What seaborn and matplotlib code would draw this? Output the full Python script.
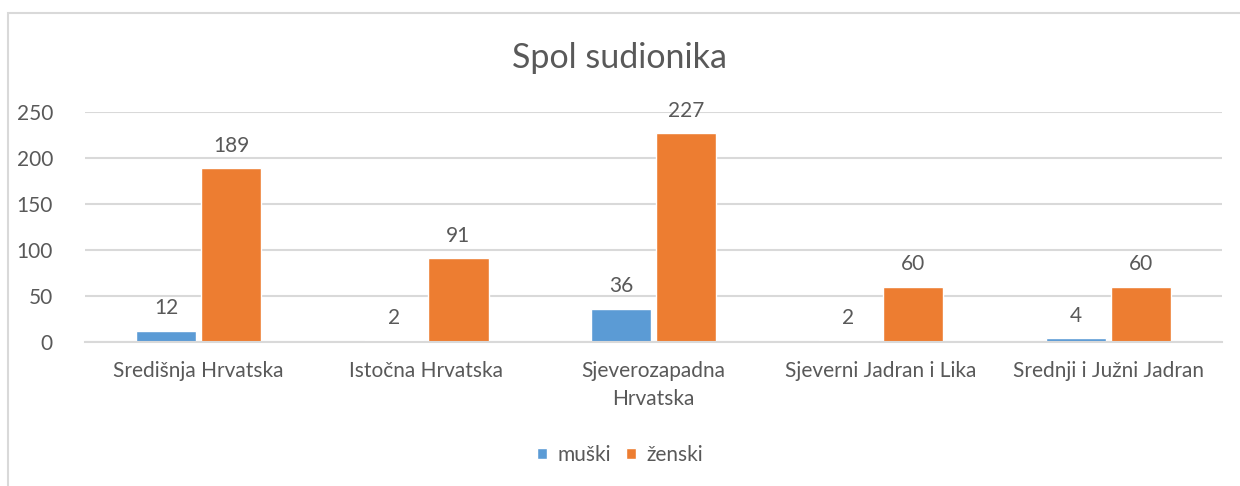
import pandas as pd
import matplotlib.pyplot as plt
import seaborn as sns
from matplotlib.patches import Rectangle, Patch

# Data
regions = ["Središnja Hrvatska", "Istočna Hrvatska", "Sjeverozapadna\nHrvatska",
           "Sjeverni Jadran i Lika", "Srednji i Južni Jadran"]
muski = [12, 2, 36, 2, 4]
zenski = [189, 91, 227, 60, 60]
series = ["muški", "ženski"]
colors = ["#5B9BD5", "#ED7D31"]
yticks = [0, 50, 100, 150, 200, 250]

df = pd.DataFrame({
    "regija": regions * 2,
    "spol": [series[0]] * len(regions) + [series[1]] * len(regions),
    "broj": muski + zenski,
})

sns.set_style("white")
plt.rcParams["font.family"] = ["Lato", "DejaVu Sans"]
text_col = "#595959"
grid_col = "#D9D9D9"
fs = 15

fig = plt.figure(figsize=(12.4, 4.86), dpi=100)
ax = fig.add_axes([0.0685, 0.2963, 0.917, 0.4732])

sns.barplot(data=df, x="regija", y="broj", hue="spol", palette=colors,
            width=0.57, gap=0.07, order=regions, hue_order=series,
            legend=False, ax=ax, saturation=1)

for cont in ax.containers:
    ax.bar_label(cont, padding=9, fontsize=fs, color=text_col)

ax.set_ylim(0, 250)
ax.set_yticks(yticks)
ax.set_xlim(-0.5, len(regions) - 0.5)
ax.yaxis.grid(True, color=grid_col, linewidth=1.5)
ax.set_axisbelow(True)
ax.set_xlabel("")
ax.set_ylabel("")
for s in ["top", "right", "left"]:
    ax.spines[s].set_visible(False)
ax.spines["bottom"].set_color(grid_col)
ax.spines["bottom"].set_linewidth(1.5)

ax.tick_params(axis="y", length=0, labelsize=fs, labelcolor=text_col, pad=23)
ax.set_xticks(range(len(regions)))
ax.set_xticklabels(regions)
ax.tick_params(axis="x", which="major", length=0, labelsize=fs,
               labelcolor=text_col, pad=14)
ax.set_xticks([i - 0.5 for i in range(len(regions) + 1)], minor=True)
ax.tick_params(axis="x", which="minor", length=6, width=1.5, color=grid_col)
for lbl in ax.get_xticklabels():
    lbl.set_linespacing(1.45)

fig.text(0.5, 0.88, "Spol sudionika", ha="center", va="center",
         fontsize=24.5, color=text_col)

handles = [Patch(facecolor=c, label=s) for c, s in zip(colors, series)]
fig.legend(handles=handles, loc="center", bbox_to_anchor=(0.5, 0.064),
           ncol=2, frameon=False, fontsize=fs, labelcolor=text_col,
           handlelength=0.5, handleheight=0.5, handletextpad=0.5,
           columnspacing=0.7)

fig.add_artist(Rectangle((8 / 1240, -0.2), 1.5, 1.2 - 13 / 486,
                         transform=fig.transFigure, fill=False,
                         edgecolor=grid_col, linewidth=1.5))

fig.savefig("out.png", dpi=100, facecolor="white")
